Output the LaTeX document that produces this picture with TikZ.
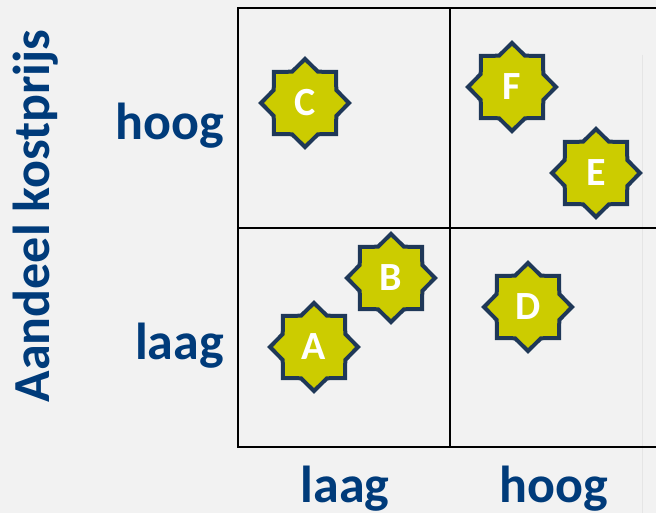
\documentclass[tikz,border=0pt]{standalone}
\usepackage{fontspec}
\setmainfont{Carlito}
\usepackage{xcolor}
\usepackage{tikz}
\usetikzlibrary{shapes.geometric}

\definecolor{bggray}{RGB}{242,242,242}
\definecolor{labelblue}{RGB}{0,59,122}
\definecolor{starfill}{RGB}{204,204,0}
\definecolor{starline}{RGB}{31,56,88}

\begin{document}
\begin{tikzpicture}[x=1pt,y=1pt,
    product/.style={star, star points=8, star point ratio=1.3, minimum size=88pt,
        inner sep=0pt, draw=starline, line width=4pt, fill=starfill,
        text=white, font=\fontsize{40}{44}\selectfont\bfseries},
    axislabel/.style={text=labelblue, inner sep=0pt, font=\fontsize{52}{60}\selectfont\bfseries},
    gridline/.style={black, line width=2pt}]
% Background
\fill[bggray] (0,0) rectangle (656,513);
\useasboundingbox (0,0) rectangle (656,513);

% Grid
\draw[black!10, line width=0.8pt] (642,458) -- (642,0);
\draw[gridline] (656,505) -- (238,505) -- (238,66) -- (656,66);
\draw[gridline] (450,505) -- (450,66);
\draw[gridline] (238,285) -- (656,285);

% Axis labels
\node[axislabel, anchor=base east] (yhigh) at (224,373) {hoog};
\node[axislabel, anchor=base east] (ylow) at (224,153) {laag};
\node[axislabel, anchor=base] (xlow) at (345,10) {laag};
\node[axislabel, anchor=base] (xhigh) at (554,10) {hoog};
\node[axislabel, anchor=base, rotate=90] (ytitle) at (50,297) {Aandeel kostprijs};

% Stars
\node[product] (c) at (305,410) {C};
\node[product] (f) at (512,426) {F};
\node[product] (e) at (596,340) {E};
\node[product] (b) at (391,235) {B};
\node[product] (d) at (528,206) {D};
\node[product] (a) at (314,166) {A};
\end{tikzpicture}
\end{document}
